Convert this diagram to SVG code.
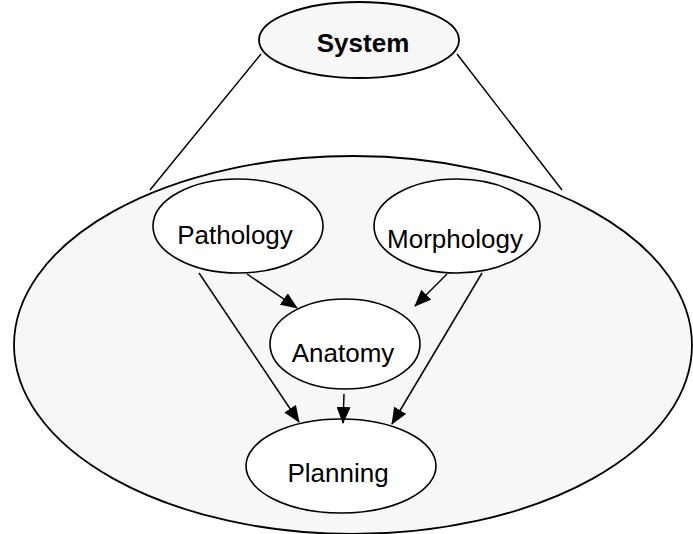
<svg xmlns="http://www.w3.org/2000/svg" width="693" height="534" viewBox="0 0 693 534">
<style>
.n{fill:#fff;stroke:#000;stroke-width:1.6}
.g{fill:#f7f7f7;stroke:#000;stroke-width:1.8}
.t{font-family:"Liberation Sans",Arial,sans-serif;font-size:26px;text-anchor:middle;fill:#000}
.c line{stroke:#000;stroke-width:1.5}
.a line{marker-end:url(#ah)}
</style>
<defs>
<marker id="ah" markerWidth="17" markerHeight="14" refX="16" refY="7" orient="auto" markerUnits="userSpaceOnUse">
<path d="M0,0 L17,7 L0,14 Z" fill="#000"/>
</marker>
</defs>
<rect width="693" height="534" fill="#fff"/>
<g id="system">
<ellipse class="g" cx="359" cy="40" rx="100" ry="38"/>
<text class="t" x="363" y="52" font-weight="bold">System</text>
</g>
<g id="context-lines" class="c">
<line x1="261" y1="54" x2="150" y2="190"/>
<line x1="457" y1="54" x2="562" y2="190"/>
</g>
<g id="domain">
<ellipse class="g" cx="353" cy="345" rx="339" ry="189"/>
</g>
<g id="pathology">
<ellipse class="n" cx="238" cy="226" rx="85" ry="47"/>
<text class="t" x="235" y="244">Pathology</text>
</g>
<g id="morphology">
<ellipse class="n" cx="457" cy="226" rx="83" ry="47"/>
<text class="t" x="455" y="248">Morphology</text>
</g>
<g id="anatomy">
<ellipse class="n" cx="345" cy="344" rx="75" ry="45"/>
<text class="t" x="343" y="362">Anatomy</text>
</g>
<g id="planning">
<ellipse class="n" cx="341" cy="466" rx="95" ry="47"/>
<text class="t" x="338" y="482">Planning</text>
</g>
<g id="connectors" class="c a">
<line x1="247" y1="274" x2="297" y2="308"/>
<line x1="447" y1="274" x2="415" y2="306"/>
<line x1="199" y1="273" x2="299" y2="422"/>
<line x1="482" y1="273" x2="392" y2="424"/>
<line x1="344" y1="394" x2="343" y2="423"/>
</g>
</svg>
